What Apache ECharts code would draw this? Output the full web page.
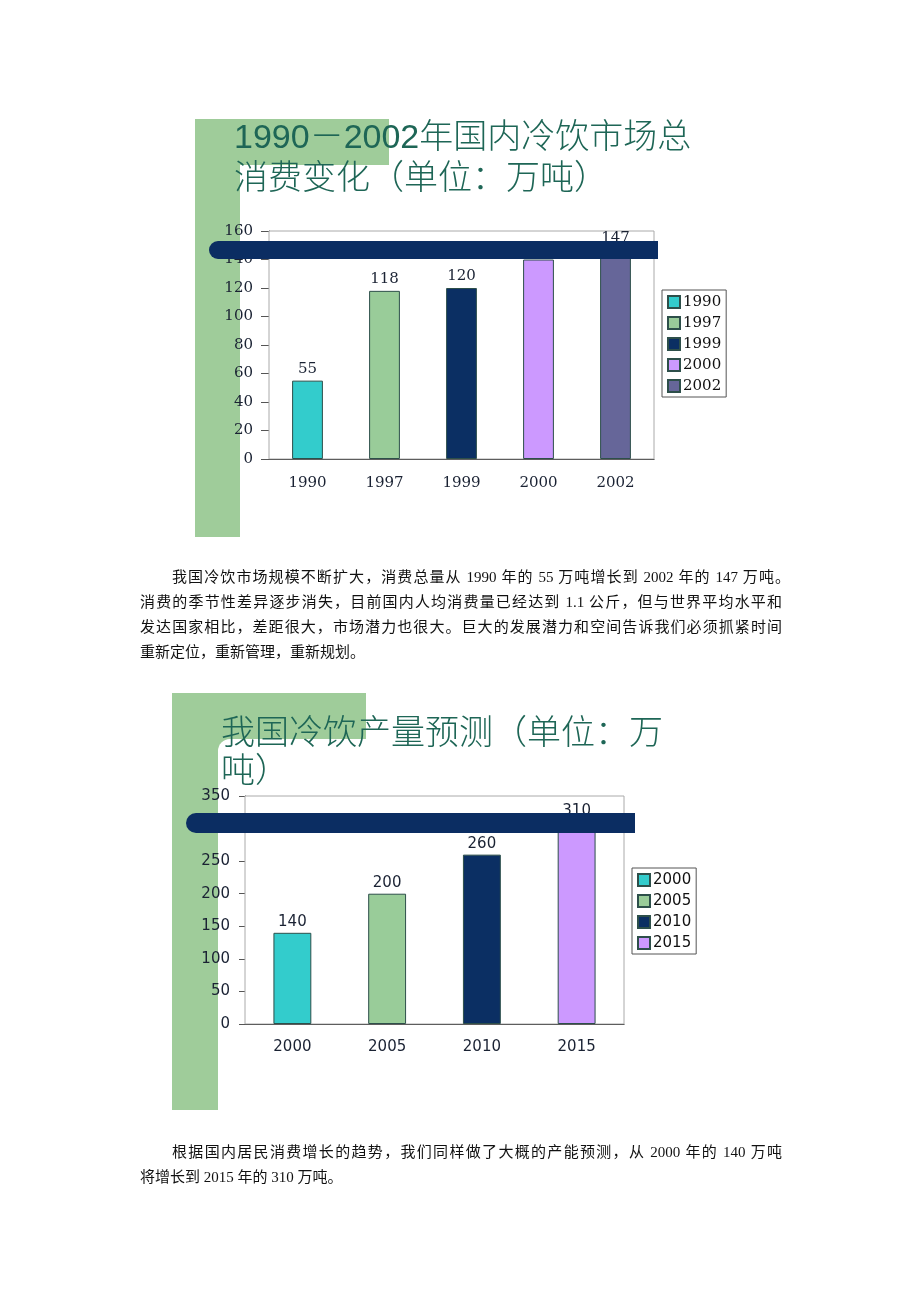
<!DOCTYPE html>
<html>
<head>
<meta charset="utf-8">
<script src="https://cdn.jsdelivr.net/npm/echarts@6/dist/echarts.min.js"></script>
<style>
  html, body { margin: 0; padding: 0; background: #ffffff; }
  #page { position: relative; width: 920px; height: 1302px; overflow: hidden; }
  #chart { position: absolute; left: 0; top: 0; width: 920px; height: 1302px; }
  .ln { position: absolute; height: 25px; line-height: 25px; font-size: 15px; color: #111;
        font-family: "Liberation Serif", "Noto Sans CJK SC", serif; white-space: nowrap; z-index: 5; }
  .jl { text-align: justify; text-align-last: justify; }
</style>
</head>
<body>
<div id="page">
  <div id="chart"></div>
  <div class="ln jl" style="left:172px; top:565px; width:618px;">我国冷饮市场规模不断扩大，消费总量从 1990 年的 55 万吨增长到 2002 年的 147 万吨。</div>
  <div class="ln jl" style="left:140px; top:590px; width:642px;">消费的季节性差异逐步消失，目前国内人均消费量已经达到 1.1 公斤，但与世界平均水平和</div>
  <div class="ln jl" style="left:140px; top:615px; width:642px;">发达国家相比，差距很大，市场潜力也很大。巨大的发展潜力和空间告诉我们必须抓紧时间</div>
  <div class="ln" style="left:140px; top:640px;">重新定位，重新管理，重新规划。</div>
  <div class="ln jl" style="left:172px; top:1140px; width:610px;">根据国内居民消费增长的趋势，我们同样做了大概的产能预测，从 2000 年的 140 万吨</div>
  <div class="ln" style="left:140px; top:1165px;">将增长到 2015 年的 310 万吨。</div>
</div>
<script>
// ---------- data ----------
const title1Lines = ['1990－2002年国内冷饮市场总', '消费变化（单位：万吨）'];
const categories1 = ['1990', '1997', '1999', '2000', '2002'];
const values1 = [55, 118, 120, 140, 147];
const colors1 = ['#33cccc', '#99cc99', '#0b2f63', '#cc99ff', '#666699'];
const yMin1 = 0, yMax1 = 160, yStep1 = 20;

const title2Lines = ['我国冷饮产量预测（单位：万', '吨）'];
const categories2 = ['2000', '2005', '2010', '2015'];
const values2 = [140, 200, 260, 310];
const colors2 = ['#33cccc', '#99cc99', '#0b2f63', '#cc99ff'];
const yMin2 = 0, yMax2 = 350, yStep2 = 50;

// ---------- build ----------
const chart = echarts.init(document.getElementById('chart'), null, { renderer: 'canvas' });

const labelColor = '#1a2233';
const serif = '"DejaVu Serif", serif';
const sans = '"DejaVu Sans", sans-serif';

function makeSeries(prefix, cats, vals, cols, idx, font, dist) {
  return cats.map((c, i) => ({
    type: 'bar',
    name: prefix + '_' + c,
    xAxisIndex: idx,
    yAxisIndex: idx,
    data: cats.map((_, j) => (j === i ? vals[i] : '-')),
    barWidth: '40%',
    barGap: '-100%',
    itemStyle: { color: cols[i], borderColor: '#2d4f4a', borderWidth: 1 },
    label: { show: true, position: 'top', distance: dist, fontFamily: font, fontSize: 15, color: labelColor }
  }));
}

function makeLegend(prefix, cats, left, top, font) {
  return {
    data: cats.map(c => prefix + '_' + c),
    formatter: n => n.split('_')[1],
    orient: 'vertical',
    left: left, top: top,
    itemWidth: 12, itemHeight: 12, itemGap: 5,
    icon: 'rect',
    selectedMode: false,
    borderColor: '#555', borderWidth: 1,
    padding: [4, 5, 3, 5],
    textStyle: { fontFamily: font, fontSize: 15, lineHeight: 16, color: '#111', padding: [0, 0, 0, -2] }
  };
}

function txt(x, y, text, size, z) {
  return {
    type: 'text', x: x, y: y, z: z || 10,
    style: {
      text: text,
      font: '300 ' + size + 'px "Liberation Sans", "Noto Sans CJK SC", sans-serif',
      fill: '#1e6656',
      textAlign: 'left', textVerticalAlign: 'middle',
      align: 'left', verticalAlign: 'middle'
    }
  };
}

const green = '#9fcc9a';
const navy = '#0b2d62';

const option = {
  animation: false,
  backgroundColor: 'transparent',
  grid: [
    { left: 269, top: 231, width: 385, height: 228, show: true, borderColor: '#aaa', borderWidth: 1, backgroundColor: '#fff', z: 1 },
    { left: 245, top: 796, width: 379, height: 228, show: true, borderColor: '#aaa', borderWidth: 1, backgroundColor: '#fff', z: 1 }
  ],
  xAxis: [
    {
      type: 'category', gridIndex: 0, data: categories1,
      axisLine: { lineStyle: { color: '#111', width: 1 } },
      axisTick: { inside: true, length: 5, lineStyle: { color: '#777' } },
      axisLabel: { margin: 17, fontFamily: serif, fontSize: 15, color: labelColor }
    },
    {
      type: 'category', gridIndex: 1, data: categories2,
      axisLine: { lineStyle: { color: '#111', width: 1 } },
      axisTick: { inside: true, length: 5, lineStyle: { color: '#777' } },
      axisLabel: { margin: 16, fontFamily: sans, fontSize: 15, color: labelColor }
    }
  ],
  yAxis: [
    {
      type: 'value', gridIndex: 0, min: yMin1, max: yMax1, interval: yStep1,
      axisLine: { show: true, lineStyle: { color: '#111', width: 1 } },
      axisTick: { show: true, length: 8, lineStyle: { color: '#555' } },
      splitLine: { lineStyle: { color: '#4a4a4a', width: 1 } },
      axisLabel: { margin: 16, fontFamily: serif, fontSize: 15, color: labelColor }
    },
    {
      type: 'value', gridIndex: 1, min: yMin2, max: yMax2, interval: yStep2,
      axisLine: { show: true, lineStyle: { color: '#111', width: 1 } },
      axisTick: { show: true, length: 6, lineStyle: { color: '#555' } },
      splitLine: { lineStyle: { color: '#555', width: 1 } },
      axisLabel: { margin: 15, fontFamily: sans, fontSize: 15, color: labelColor }
    }
  ],
  legend: [
    makeLegend('a', categories1, 662, 290, serif),
    makeLegend('b', categories2, 632, 868, sans)
  ],
  series: [].concat(
    makeSeries('a', categories1, values1, colors1, 0, serif, 4),
    makeSeries('b', categories2, values2, colors2, 1, sans, 3)
  ),
  graphic: [
    // chart 1 decoration
    { type: 'rect', z: -5, shape: { x: 195, y: 119, width: 194, height: 46 }, style: { fill: green } },
    { type: 'rect', z: -5, shape: { x: 195, y: 119, width: 45, height: 418 }, style: { fill: green } },
    txt(234, 139, title1Lines[0], 34),
    txt(234, 180, title1Lines[1], 34),
    { type: 'rect', z: 100, shape: { x: 209, y: 241, width: 449, height: 18, r: [9, 0, 0, 9] }, style: { fill: navy } },
    // chart 2 decoration
    { type: 'rect', z: -5, shape: { x: 172, y: 693, width: 194, height: 57 }, style: { fill: green } },
    { type: 'rect', z: -5, shape: { x: 172, y: 693, width: 46, height: 417 }, style: { fill: green } },
    { type: 'rect', z: -4, shape: { x: 218, y: 739, width: 500, height: 380, r: [12, 0, 0, 0] }, style: { fill: '#fff' } },
    txt(221, 735, title2Lines[0], 34),
    txt(221, 773, title2Lines[1], 34),
    { type: 'rect', z: 100, shape: { x: 186, y: 813, width: 449, height: 20, r: [10, 0, 0, 10] }, style: { fill: navy } }
  ]
};
chart.setOption(option);
</script>
</body>
</html>
